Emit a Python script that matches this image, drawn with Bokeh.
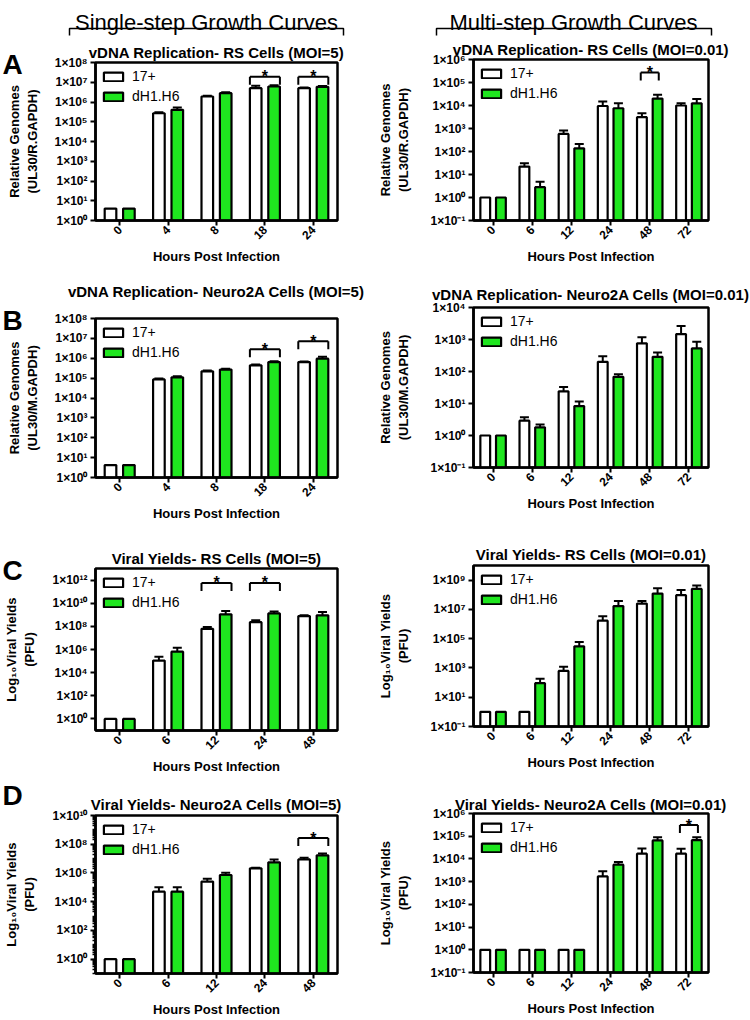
import math
from bokeh.plotting import figure
from bokeh.models import (FactorRange, ColumnDataSource, Whisker, TeeHead, FixedTicker,
                          CustomJSTickFormatter, Legend, LegendItem, Range1d, Title)
from bokeh.transform import dodge
from bokeh.layouts import column, row
from bokeh.core.properties import value
from bokeh.embed import file_html
from bokeh.resources import INLINE

FONT = "Liberation Sans"
GREEN = "#1fe61f"

# ---------------- data ----------------
series_names = ["17+", "dH1.H6"]
header_left = "Single-step Growth Curves"
header_right = "Multi-step Growth Curves"

# A left: vDNA replication RS cells MOI=5
A1_hours = ["0", "4", "8", "18", "24"]
A1_wt = [4, 2.7e5, 1.9e6, 5.0e6, 5.0e6]
A1_wt_hi = [4, 3.0e5, 2.1e6, 6.6e6, 5.4e6]
A1_wt_lo = [4, 2.4e5, 1.7e6, 3.8e6, 4.6e6]
A1_mu = [4, 4.0e5, 2.8e6, 6.1e6, 5.9e6]
A1_mu_hi = [4, 5.3e5, 3.1e6, 7.1e6, 6.4e6]
A1_mu_lo = [4, 3.0e5, 2.5e6, 5.2e6, 5.4e6]
A1_sig = ["18", "24"]
A1_sig_y = [1.9e7, 1.9e7]

# A right: vDNA replication RS cells MOI=0.01
A2_hours = ["0", "6", "12", "24", "48", "72"]
A2_wt = [1, 22, 580, 9500, 3100, 1.0e4]
A2_wt_hi = [1, 31, 810, 1.5e4, 4600, 1.24e4]
A2_wt_lo = [1, 15, 420, 6000, 2100, 8000]
A2_mu = [1, 2.8, 138, 7600, 2.0e4, 1.24e4]
A2_mu_hi = [1, 4.9, 213, 1.24e4, 2.9e4, 1.9e4]
A2_mu_lo = [1, 1.1, 90, 4700, 1.4e4, 8000]
A2_sig = ["48"]
A2_sig_y = [2.7e5]

# B left: vDNA replication Neuro2A MOI=5
B1_hours = ["0", "4", "8", "18", "24"]
B1_wt = [4.2, 8.6e4, 2.2e5, 4.4e5, 6.4e5]
B1_wt_hi = [4.2, 9.5e4, 2.4e5, 4.9e5, 6.9e5]
B1_wt_lo = [4.2, 7.8e4, 2.0e5, 4.0e5, 5.9e5]
B1_mu = [4.2, 1.1e5, 2.7e5, 6.4e5, 9.5e5]
B1_mu_hi = [4.2, 1.25e5, 3.0e5, 7.0e5, 1.2e6]
B1_mu_lo = [4.2, 9.7e4, 2.4e5, 5.8e5, 7.5e5]
B1_sig = ["18", "24"]
B1_sig_y = [2.8e6, 7.1e6]

# B right: vDNA replication Neuro2A MOI=0.01
B2_hours = ["0", "6", "12", "24", "48", "72"]
B2_wt = [1, 2.9, 24, 200, 760, 1480]
B2_wt_hi = [1, 3.7, 33, 302, 1170, 2650]
B2_wt_lo = [1, 2.2, 17, 130, 490, 820]
B2_mu = [1, 1.8, 8.3, 68, 288, 525]
B2_mu_hi = [1, 2.2, 11.5, 82, 395, 850]
B2_mu_lo = [1, 1.5, 6, 56, 210, 320]
B2_sig = []
B2_sig_y = []

# C left: viral yields RS MOI=5
C1_hours = ["0", "6", "12", "24", "48"]
C1_wt = [1, 1.1e5, 6.1e7, 2.3e8, 7.8e8]
C1_wt_hi = [1, 2.4e5, 9.0e7, 3.3e8, 8.9e8]
C1_wt_lo = [1, 2.2e4, 4.1e7, 1.6e8, 6.8e8]
C1_mu = [1, 6.5e5, 1.1e9, 1.3e9, 8.9e8]
C1_mu_hi = [1, 1.4e6, 2.1e9, 1.9e9, 1.7e9]
C1_mu_lo = [1, 6.0e4, 5.6e8, 9.0e8, 4.6e8]
C1_sig = ["12", "24"]
C1_sig_y = [5.6e11, 5.6e11]

# C right: viral yields RS MOI=0.01
C2_hours = ["0", "6", "12", "24", "48", "72"]
C2_wt = [1, 1, 630, 1.7e6, 2.5e7, 9.4e7]
C2_wt_hi = [1, 1, 1200, 3.4e6, 3.8e7, 2.1e8]
C2_wt_lo = [1, 1, 240, 3.3e5, 1.6e7, 5.0e7]
C2_mu = [1, 91, 3.0e4, 1.7e7, 1.2e8, 2.5e8]
C2_mu_hi = [1, 180, 6.0e4, 3.8e7, 2.8e8, 4.3e8]
C2_mu_lo = [1, 28, 530, 1.4e6, 5.5e7, 1.5e8]
C2_sig = []
C2_sig_y = []

# D left: viral yields Neuro2A MOI=5
D1_hours = ["0", "6", "12", "24", "48"]
D1_wt = [1, 5.0e4, 2.5e5, 2.1e6, 8.7e6]
D1_wt_hi = [1, 1.0e5, 3.9e5, 2.3e6, 1.15e7]
D1_wt_lo = [1, 3.0e4, 1.6e5, 1.9e6, 6.6e6]
D1_mu = [1, 5.0e4, 7.2e5, 5.5e6, 1.7e7]
D1_mu_hi = [1, 1.0e5, 1.05e6, 8.7e6, 2.3e7]
D1_mu_lo = [1, 3.0e4, 5.0e5, 3.5e6, 1.3e7]
D1_sig = ["48"]
D1_sig_y = [2.7e8]

# D right: viral yields Neuro2A MOI=0.01
D2_hours = ["0", "6", "12", "24", "48", "72"]
D2_wt = [1, 1, 1, 1.7e3, 1.7e4, 1.7e4]
D2_wt_hi = [1, 1, 1, 2.9e3, 2.9e4, 2.8e4]
D2_wt_lo = [1, 1, 1, 1.1e3, 1.1e4, 1.1e4]
D2_mu = [1, 1, 1, 5.6e3, 6.5e4, 6.7e4]
D2_mu_hi = [1, 1, 1, 7.4e3, 9.1e4, 9.1e4]
D2_mu_lo = [1, 1, 1, 4.3e3, 4.6e4, 4.9e4]
D2_sig = ["72"]
D2_sig_y = [3.1e5]

LBL_GEN_R = "Relative Genomes\n(UL30/R.GAPDH)"
LBL_GEN_M = "Relative Genomes\n(UL30/M.GAPDH)"
LBL_PFU = "Log\u2081\u2080Viral Yields\n(PFU)"

FMT = CustomJSTickFormatter(code="""
const e = Math.round(Math.log10(tick));
const sup = {"0":"\u2070","1":"\u00b9","2":"\u00b2","3":"\u00b3","4":"\u2074","5":"\u2075","6":"\u2076","7":"\u2077","8":"\u2078","9":"\u2079","-":"\u207b"};
return "1\u00d710" + String(e).split("").map(c => sup[c]).join("");
""")

TITLE_PX = 15
TITLE_H = 1.2 * TITLE_PX
LETTER_PX = 28


def make_panel(title, hours, wt, wt_hi, wt_lo, mu, mu_hi, mu_lo, sig, sig_y,
               ylo_exp, yhi_exp, tick_exps, ylabel, side, geom, gap,
               letter=None, letter_outer=False, minor=False):
    top, fh, bottom = geom
    H = top + fh + bottom
    if side == "L":
        lb, rb, bw, off, bh, ystand = 95, 38, 0.24, 0.19, 0.31, 12
    else:
        lb, rb, bw, off, bh, ystand = 94, 42, 0.25, 0.2, 0.23, 16
    ylo, yhi = 10 ** ylo_exp, 10 ** yhi_exp
    p = figure(x_range=FactorRange(*hours), y_axis_type="log", y_range=Range1d(ylo, yhi),
               width=375, height=H, min_border_left=lb, min_border_right=rb,
               min_border_top=top, min_border_bottom=bottom, output_backend="svg",
               toolbar_location=None)

    main = Title(text=title, align="center", vertical_align="bottom", standoff=0,
                 text_font=FONT, text_font_size=f"{TITLE_PX}px", text_font_style="bold",
                 text_color="black")
    spacer = Title(text="\u00a0", text_font_size="2px", standoff=(gap - TITLE_H / 2) - 4.4)
    above = []
    lt = None
    if letter:
        lt = Title(text=letter, align="left", offset=-lb + 2, vertical_align="bottom",
                   standoff=-(1.2 * LETTER_PX + 1.4), text_font=FONT,
                   text_font_size=f"{LETTER_PX}px", text_font_style="bold", text_color="black")
    if lt is not None and not letter_outer:
        above.append(lt)
    above += [spacer]
    if lt is not None and letter_outer:
        above.append(main)
        p.title = lt
    else:
        p.title = main
    p.above = above

    p.xgrid.visible = False
    p.ygrid.visible = False
    p.outline_line_color = "black"
    p.outline_line_width = 2.5
    p.outline_line_alpha = 1
    p.background_fill_color = "white"
    p.border_fill_color = "white"

    for ax in (p.xaxis[0], p.yaxis[0]):
        ax.axis_line_width = 2.5
        ax.axis_line_color = "black"
        ax.major_tick_line_width = 2
        ax.major_tick_out = 5
        ax.major_tick_in = 0
        ax.major_label_text_font = FONT
        ax.major_label_text_font_style = "bold"
        ax.major_label_text_font_size = "12px"
        ax.major_label_text_color = "black"
        ax.axis_label_text_font = FONT
        ax.axis_label_text_font_style = "bold"
        ax.axis_label_text_font_size = "13px"
        ax.axis_label_text_color = "black"
    p.xaxis.major_label_orientation = math.pi / 4
    p.xaxis.major_label_standoff = 2
    p.xaxis.axis_label = "Hours Post Infection"
    p.xaxis.axis_label_standoff = 3
    p.xaxis.minor_tick_line_color = None

    minors = []
    if minor:
        for k in range(ylo_exp, yhi_exp):
            for m in range(2, 10):
                minors.append(m * 10.0 ** k)
            if k not in tick_exps:
                minors.append(10.0 ** k)
    p.yaxis.ticker = FixedTicker(ticks=[10.0 ** k for k in tick_exps], minor_ticks=minors)
    p.yaxis.formatter = FMT
    p.yaxis.major_label_standoff = 3
    p.yaxis.minor_tick_out = 3
    p.yaxis.minor_tick_in = 0
    p.yaxis.minor_tick_line_width = 1.5
    p.yaxis.axis_label = ylabel
    p.yaxis.axis_label_standoff = ystand

    src = ColumnDataSource(dict(h=hours, wt=wt, mu=mu))
    r1 = p.vbar(x=dodge("h", -off, range=p.x_range), top="wt", bottom=ylo, width=bw,
                fill_color="white", line_color="black", line_width=2.2, source=src)
    r2 = p.vbar(x=dodge("h", off, range=p.x_range), top="mu", bottom=ylo, width=bw,
                fill_color=GREEN, line_color="black", line_width=2.2, source=src)

    for vals, his, los, o in ((wt, wt_hi, wt_lo, -off), (mu, mu_hi, mu_lo, off)):
        keep = [i for i in range(len(hours)) if his[i] > vals[i] * 1.001]
        if not keep:
            continue
        ws = ColumnDataSource(dict(h=[hours[i] for i in keep], hi=[his[i] for i in keep],
                                   lo=[los[i] for i in keep]))
        w = Whisker(base=dodge("h", o, range=p.x_range), upper="hi", lower="lo", source=ws,
                    line_width=2, line_color="black",
                    upper_head=TeeHead(size=9, line_width=2, line_color="black"),
                    lower_head=TeeHead(size=9, line_width=2, line_color="black"))
        p.add_layout(w)

    if sig:
        dpp = (yhi_exp - ylo_exp) / fh
        drop = 10 ** (-8 * dpp)
        bs = ColumnDataSource(dict(h=sig, y=sig_y, yl=[v * drop for v in sig_y],
                                   t=["*"] * len(sig)))
        p.segment(x0=dodge("h", -bh, range=p.x_range), x1=dodge("h", bh, range=p.x_range),
                  y0="y", y1="y", line_color="black", line_width=2, source=bs)
        p.segment(x0=dodge("h", -bh, range=p.x_range), x1=dodge("h", -bh, range=p.x_range),
                  y0="y", y1="yl", line_color="black", line_width=2, source=bs)
        p.segment(x0=dodge("h", bh, range=p.x_range), x1=dodge("h", bh, range=p.x_range),
                  y0="y", y1="yl", line_color="black", line_width=2, source=bs)
        p.text(x="h", y="y", text="t", source=bs, text_align="center",
               text_baseline="alphabetic", text_font=value(FONT), text_font_size="16px",
               text_font_style="bold", text_color="black")

    legend = Legend(items=[LegendItem(label=series_names[0], renderers=[r1]),
                           LegendItem(label=series_names[1], renderers=[r2])],
                    location="top_left")
    legend.background_fill_alpha = 0
    legend.border_line_alpha = 0
    legend.margin = 2
    legend.padding = 4
    legend.spacing = 4
    legend.glyph_width = 24
    legend.glyph_height = 11
    legend.label_height = 12
    legend.label_standoff = 7
    legend.label_text_font = FONT
    legend.label_text_font_size = "14px"
    legend.label_text_color = "black"
    p.add_layout(legend)
    return p


# header (full width, decoration only)
hdr = figure(width=750, height=36, x_range=Range1d(0, 750), y_range=Range1d(0, 36),
             output_backend="svg", toolbar_location=None, min_border=0)
hdr.axis.visible = False
hdr.xgrid.visible = False
hdr.ygrid.visible = False
hdr.outline_line_color = None
hdr.border_fill_color = "white"
hdr.text(x=[206, 573], y=[14, 14], text=[header_left, header_right], text_align="center",
         text_baseline="alphabetic", text_font=value(FONT), text_font_size="22px",
         text_color="black")
hdr.multi_line(xs=[[69, 69, 343, 343], [436, 436, 711, 711]],
               ys=[[1, 8, 8, 1], [1, 8, 8, 1]], line_color="black", line_width=1.5)

pA1 = make_panel("vDNA Replication- RS Cells (MOI=5)", A1_hours, A1_wt, A1_wt_hi, A1_wt_lo,
                 A1_mu, A1_mu_hi, A1_mu_lo, A1_sig, A1_sig_y, 0, 8, list(range(0, 9)),
                 LBL_GEN_R, "L", (26, 158, 58), 11, letter="A")
pA2 = make_panel("vDNA Replication- RS Cells (MOI=0.01)", A2_hours, A2_wt, A2_wt_hi, A2_wt_lo,
                 A2_mu, A2_mu_hi, A2_mu_lo, A2_sig, A2_sig_y, -1, 6, list(range(-1, 7)),
                 LBL_GEN_R, "R", (23, 161, 58), 11)
pB1 = make_panel("vDNA Replication- Neuro2A Cells (MOI=5)", B1_hours, B1_wt, B1_wt_hi, B1_wt_lo,
                 B1_mu, B1_mu_hi, B1_mu_lo, B1_sig, B1_sig_y, 0, 8, list(range(0, 9)),
                 LBL_GEN_M, "L", (40, 159, 63), 28, letter="B")
pB2 = make_panel("vDNA Replication- Neuro2A Cells (MOI=0.01)", B2_hours, B2_wt, B2_wt_hi, B2_wt_lo,
                 B2_mu, B2_mu_hi, B2_mu_lo, B2_sig, B2_sig_y, -1, 4, list(range(-1, 5)),
                 LBL_GEN_M, "R", (29, 160, 73), 14)
pC1 = make_panel("Viral Yields- RS Cells (MOI=5)", C1_hours, C1_wt, C1_wt_hi, C1_wt_lo,
                 C1_mu, C1_mu_hi, C1_mu_lo, C1_sig, C1_sig_y, -1, 13, list(range(0, 13, 2)),
                 LBL_PFU, "L", (28, 162, 51), 11, letter="C")
pC2 = make_panel("Viral Yields- RS Cells (MOI=0.01)", C2_hours, C2_wt, C2_wt_hi, C2_wt_lo,
                 C2_mu, C2_mu_hi, C2_mu_lo, C2_sig, C2_sig_y, -1, 10, list(range(-1, 10, 2)),
                 LBL_PFU, "R", (25, 161, 62), 12)
pD1 = make_panel("Viral Yields- Neuro2A Cells (MOI=5)", D1_hours, D1_wt, D1_wt_hi, D1_wt_lo,
                 D1_mu, D1_mu_hi, D1_mu_lo, D1_sig, D1_sig_y, -1, 10, list(range(0, 11, 2)),
                 LBL_PFU, "L", (34, 159, 46), 12, letter="D", letter_outer=True, minor=True)
pD2 = make_panel("Viral Yields- Neuro2A Cells (MOI=0.01)", D2_hours, D2_wt, D2_wt_hi, D2_wt_lo,
                 D2_mu, D2_mu_hi, D2_mu_lo, D2_sig, D2_sig_y, -1, 6, list(range(-1, 7)),
                 LBL_PFU, "R", (25, 159, 48), 10)

layout = column(hdr, row(column(pA1, pB1, pC1, pD1), column(pA2, pB2, pC2, pD2)))
open("out.html", "w", encoding="utf-8").write(file_html(layout, INLINE))
